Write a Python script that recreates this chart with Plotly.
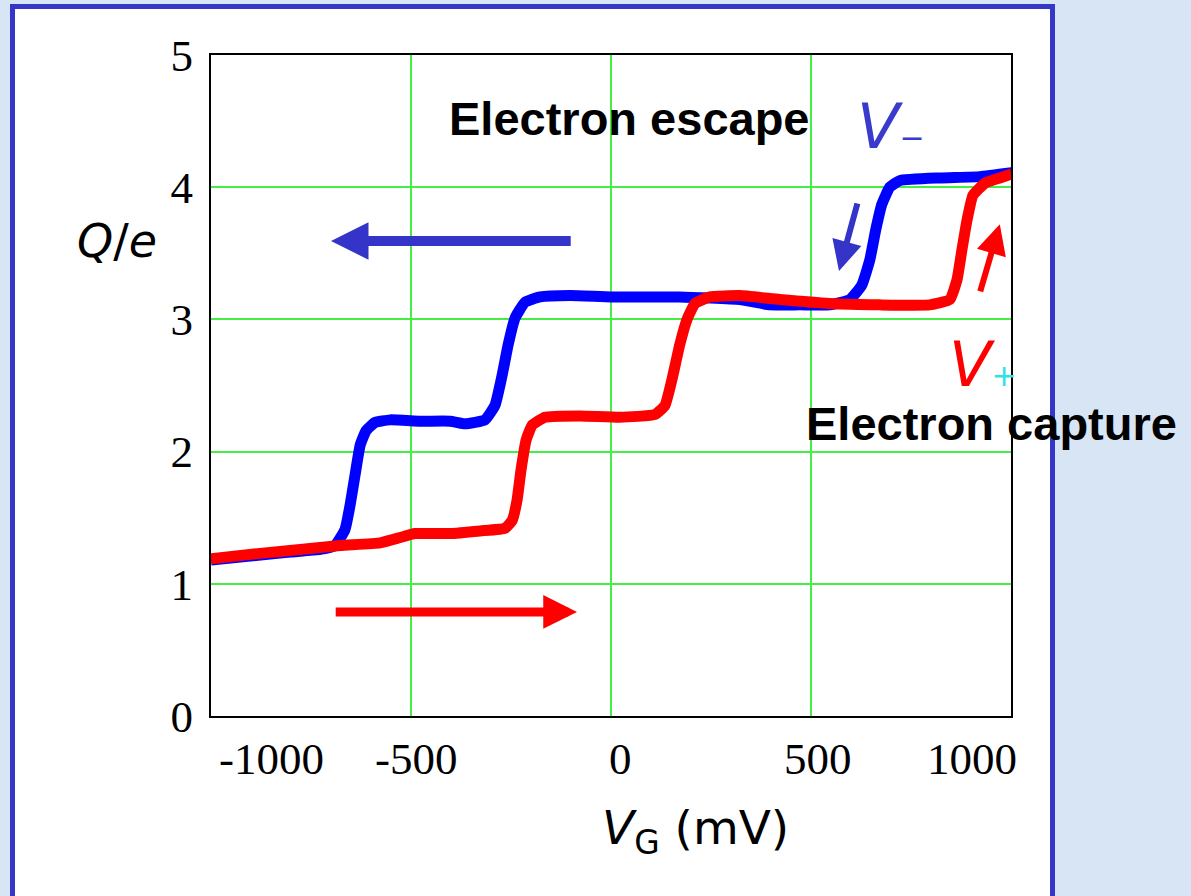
import plotly.graph_objects as go

# ---- data ----
blue_v = [-1000, -902, -802, -727, -690, -665, -652, -640, -627, -612, -590, -552, -477, -402, -365, -315,
          -290, -272, -257, -240, -215, -177, -102, 0, 172, 322, 397, 472, 547, 597, 627, 647, 662, 677,
          697, 722, 822, 922, 1002]
blue_q = [1.18, 1.21, 1.24, 1.26, 1.29, 1.41, 1.60, 1.82, 2.05, 2.16, 2.22, 2.24, 2.23, 2.23, 2.21, 2.24,
          2.35, 2.58, 2.81, 3.01, 3.13, 3.17, 3.18, 3.17, 3.17, 3.15, 3.11, 3.11, 3.11, 3.15, 3.26, 3.45, 3.68, 3.87,
          4.00, 4.05, 4.07, 4.08, 4.11]

red_v = [-1000, -877, -777, -677, -577, -527, -490, -402, -327, -265, -247, -235, -225, -212, -197, -165,
         -77, 22, 110, 135, 152, 172, 190, 210, 247, 322, 422, 547, 672, 797, 847, 865, 877, 890, 905,
         935, 972, 1002]
red_q = [1.19, 1.23, 1.26, 1.29, 1.31, 1.35, 1.38, 1.38, 1.40, 1.42, 1.48, 1.63, 1.86, 2.09, 2.20, 2.26,
         2.27, 2.26, 2.28, 2.35, 2.54, 2.81, 3.00, 3.12, 3.17, 3.18, 3.15, 3.12, 3.11, 3.11, 3.15, 3.30, 3.52, 3.75, 3.94,
         4.03, 4.07, 4.10]

x_ticks = [-1000, -500, 0, 500, 1000]
x_tick_labels = ["-1000", "-500", "0", "500", "1000"]
x_label_shift = [60, 5, 9, 7, -39]
y_ticks = [0, 1, 2, 3, 4, 5]

BLUE = "#0000ff"
RED = "#ff0000"
ARROW_BLUE = "#3434c8"
GRID = "#44ee44"
SERIF = "Liberation Serif, Times New Roman, serif"
SANS = "DejaVu Sans, Verdana, sans-serif"
ARIAL = "Liberation Sans, Arial, sans-serif"

fig = go.Figure()
fig.add_trace(go.Scatter(x=blue_v, y=blue_q, mode="lines",
                         line=dict(color=BLUE, width=11, shape="spline", smoothing=0.4),
                         showlegend=False, hoverinfo="skip"))
fig.add_trace(go.Scatter(x=red_v, y=red_q, mode="lines",
                         line=dict(color=RED, width=11, shape="spline", smoothing=0.4),
                         showlegend=False, hoverinfo="skip"))

# pixel -> paper helpers for layout decorations
PL, PR, PT, PB = 211, 1011, 55, 716
def px(xp):
    return (xp - PL) / (PR - PL)
def py(yp):
    return (PB - yp) / (PB - PT)

annotations = []
for v, t, s in zip(x_ticks, x_tick_labels, x_label_shift):
    annotations.append(dict(x=v, y=0, xref="x", yref="paper", text=t, showarrow=False,
                            xanchor="center", yanchor="middle", xshift=s, yshift=-43,
                            font=dict(family=SERIF, size=45, color="black")))

# axis titles
annotations.append(dict(x=px(117), y=py(241), xref="paper", yref="paper", text="<i>Q</i>/<i>e</i>",
                        showarrow=False, xanchor="center", yanchor="middle",
                        font=dict(family=SANS, size=46, color="black")))
annotations.append(dict(x=px(695), y=py(831), xref="paper", yref="paper",
                        text="<i>V</i><sub>G</sub> (mV)", showarrow=False, xanchor="center", yanchor="middle",
                        font=dict(family=SANS, size=47, color="black")))

# text labels
annotations.append(dict(x=px(629), y=py(119), xref="paper", yref="paper", text="<b>Electron escape</b>",
                        showarrow=False, xanchor="center", yanchor="middle",
                        font=dict(family=ARIAL, size=47, color="black")))
annotations.append(dict(x=px(991), y=py(423), xref="paper", yref="paper", text="<b>Electron capture</b>",
                        showarrow=False, xanchor="center", yanchor="middle",
                        font=dict(family=ARIAL, size=47, color="black")))
annotations.append(dict(x=px(855), y=py(127), xref="paper", yref="paper",
                        text="<i>V</i><span style='font-size:30px'>\u2212</span>",
                        showarrow=False, xanchor="left", yanchor="middle",
                        font=dict(family=SANS, size=62, color="#3a3acc")))
annotations.append(dict(x=px(947), y=py(364), xref="paper", yref="paper",
                        text="<i>V</i><span style='font-size:30px;color:#2ee3e3'>+</span>",
                        showarrow=False, xanchor="left", yanchor="middle",
                        font=dict(family=SANS, size=62, color=RED)))

# arrows
def arrow(x0, y0, x1, y1, color, w, size):
    return dict(x=x1, y=y1, ax=x0, ay=y0, xref="x", yref="y", axref="x", ayref="y",
                text="", showarrow=True, arrowhead=2, arrowsize=size, arrowwidth=w,
                arrowcolor=color, standoff=0, startstandoff=0)

annotations.append(arrow(-97, 3.593, -700, 3.593, ARROW_BLUE, 10, 0.75))
annotations.append(arrow(-692, 0.787, -85, 0.787, RED, 9, 0.75))
annotations.append(arrow(617, 3.888, 570, 3.366, ARROW_BLUE, 6, 1.0))
annotations.append(arrow(922, 3.20, 972, 3.72, RED, 6, 1.0))

fig.update_layout(
    width=1191, height=896,
    margin=dict(l=211, r=180, t=55, b=180),
    paper_bgcolor="#d7e5f5",
    plot_bgcolor="white",
    xaxis=dict(range=[-1000, 1000], tickvals=x_ticks, showticklabels=False,
               showgrid=True, gridcolor=GRID, gridwidth=1.5, zeroline=False,
               showline=True, linecolor="black", linewidth=2, mirror=True, ticks=""),
    yaxis=dict(range=[0, 5], tickvals=y_ticks, showgrid=True, gridcolor=GRID, gridwidth=1.5,
               zeroline=False, showline=True, linecolor="black", linewidth=2, mirror=True,
               ticks="", ticklabelstandoff=7,
               tickfont=dict(family=SERIF, size=45, color="black")),
    annotations=annotations,
)

# white panel with blue border
fig.add_shape(type="rect", xref="paper", yref="paper",
              x0=px(12.5), x1=px(1052.5), y0=py(930), y1=py(6.5),
              line=dict(color="#3636c8", width=5), fillcolor="white", layer="below")

fig.write_html("out.html")
